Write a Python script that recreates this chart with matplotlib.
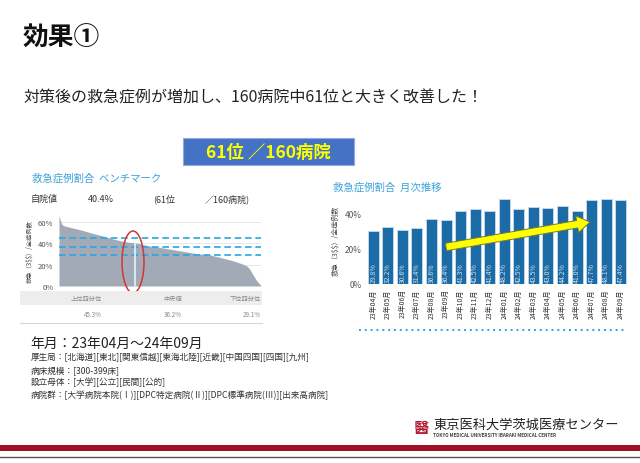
import matplotlib
matplotlib.use("Agg")
import matplotlib.pyplot as plt
import matplotlib.patches as mpatches
import numpy as np

plt.rcParams['font.family'] = ['Noto Sans CJK JP', 'DejaVu Sans']

# ---------------- data ----------------
bench_values = [
    66.0, 62.0, 58.5, 57.0, 56.5,
    56.0, 55.8, 55.5, 55.2, 55.0,
    54.6, 54.3, 54.0, 53.8, 53.5, 53.2, 52.9, 52.6, 52.3, 52.0,
    51.6, 51.2, 50.9, 50.5, 50.2, 49.8, 49.5, 49.1, 48.8, 48.5,
    48.2, 47.9, 47.6, 47.3, 47.0, 46.7, 46.4, 46.1, 45.7, 45.3,
    45.0, 44.6, 44.3, 44.0, 43.7, 43.4, 43.1, 42.8, 42.5, 42.2,
    42.0, 41.8, 41.6, 41.4, 41.2, 41.0, 40.9, 40.8, 40.7, 40.5,
    40.4, 40.2, 40.0, 39.8, 39.5, 39.2, 38.9, 38.6, 38.3, 38.0,
    37.8, 37.6, 37.4, 37.2, 37.0, 36.8, 36.6, 36.5, 36.4, 36.2,
    36.0, 35.8, 35.6, 35.4, 35.2, 35.0, 34.8, 34.6, 34.4, 34.2,
    34.0, 33.8, 33.6, 33.4, 33.2, 33.0, 32.8, 32.6, 32.4, 32.2,
    32.0, 31.8, 31.6, 31.4, 31.2, 31.0, 30.8, 30.6, 30.4, 30.2,
    30.1, 30.0, 29.9, 29.8, 29.7, 29.6, 29.5, 29.4, 29.2, 29.1,
    28.8, 28.5, 28.2, 27.9, 27.6, 27.3, 27.0, 26.7, 26.4, 26.1,
    25.8, 25.5, 25.2, 24.9, 24.6, 24.3, 24.0, 23.6, 23.2, 22.8,
    22.4, 22.0, 21.6, 21.2, 20.8, 20.3, 19.8, 19.2, 18.5, 17.5,
    16.0, 14.0, 12.0, 10.0, 8.0, 6.0, 4.5, 3.0, 1.5, 0.5,
]
own_rank = 61
own_value = 40.4
quartile_names = ['上位四分位', '中央値', '下位四分位']
quartile_values = [45.3, 36.2, 29.1]

months = ['23年04月', '23年05月', '23年06月', '23年07月', '23年08月', '23年09月',
          '23年10月', '23年11月', '23年12月', '24年01月', '24年02月', '24年03月',
          '24年04月', '24年05月', '24年06月', '24年07月', '24年08月', '24年09月']
monthly_values = [29.8, 32.2, 30.6, 31.4, 36.6, 36.4, 41.3, 42.5, 41.4, 48.2,
                  42.5, 43.5, 43.0, 44.2, 41.0, 47.7, 48.1, 47.4]
y_ticks = [0, 20, 40, 60]

W, H = 640, 464
fig = plt.figure(figsize=(6.4, 4.64), dpi=100)
fig.patch.set_facecolor('white')


def fx(x):
    return x / W


def fy(y):
    return 1 - y / H


def text(x, y, s, **kw):
    fig.text(fx(x), fy(y), s, **kw)


# ---------------- headings ----------------
text(23, 38, '効果①', fontsize=18.5, fontweight='bold', va='center', ha='left', color='#111111')
text(23, 98, '対策後の救急症例が増加し、160病院中61位と大きく改善した！', fontsize=11.5,
     va='center', ha='left', color='#222222')

# blue banner
fig.add_artist(mpatches.Rectangle((fx(183), fy(166)), fx(171), 27 / H, transform=fig.transFigure,
                                  facecolor='#4472C4', edgecolor='#8FAADC', lw=0.8))
text(268, 153, '61位 ／160病院', fontsize=12.5, fontweight='bold', color='#FFFF00',
     ha='center', va='center')

# ---------------- left: benchmark ----------------
blue_title = '#3AA3DA'
text(32, 179, '救急症例割合  ベンチマーク', fontsize=7.5, color=blue_title, va='center')
text(31, 199, '自院値', fontsize=6.5, color='#333333', va='center')
text(88, 199, f'{own_value}%', fontsize=6.5, color='#333333', va='center')
text(153, 199, f'({own_rank}位', fontsize=6.5, color='#333333', va='center')
text(205, 199, f'／{len(bench_values)}病院)', fontsize=6.5, color='#333333', va='center')

axl = fig.add_axes([fx(59), fy(287), 202 / W, 70 / H])
ranks = np.arange(1, len(bench_values) + 1)
axl.fill_between(ranks, bench_values, 0, color='#A2AAB8', lw=0, zorder=2)
axl.set_xlim(1, len(bench_values))
axl.set_ylim(0, 65.6)
axl.set_yticks(y_ticks)
axl.set_yticklabels([f'{v}%' for v in y_ticks], fontsize=5.5, color='#555555')
axl.tick_params(length=0, pad=4)
axl.set_xticks([])
for v in y_ticks[1:]:
    axl.axhline(v, color='#E3E3E3', lw=0.6, zorder=1)
for s in axl.spines.values():
    s.set_visible(False)
for q in quartile_values:
    axl.axhline(q, color='#2AA7E2', lw=1.2, ls=(0, (4, 2.2)), zorder=3)
axl.vlines(own_rank, 0, own_value, color='#D8E8F4', lw=1.4, zorder=3)
axl.set_ylabel('救急（3\\$\\$）/全症例数', fontsize=4.5, color='#444444', labelpad=3)

fig.add_artist(mpatches.Ellipse((fx(133), fy(263)), 22 / W, 62 / H, transform=fig.transFigure,
                                fill=False, edgecolor='#D8352B', lw=1.1))

# quartile table
fig.add_artist(mpatches.Rectangle((fx(20), fy(306)), fx(242), 14 / H, transform=fig.transFigure,
                                  facecolor='#EDEDED', edgecolor='none'))
fig.add_artist(plt.Line2D([fx(20), fx(262)], [fy(324), fy(324)], transform=fig.transFigure,
                          color='#D6D6D6', lw=0.8))
col_right = [102, 182, 261]
for xr, name, val in zip(col_right, quartile_names, quartile_values):
    text(xr, 299, name, fontsize=4.5, color='#888888', ha='right', va='center')
    text(xr, 315, f'{val}%', fontsize=4.5, color='#888888', ha='right', va='center')

# ---------------- right: monthly ----------------
text(333, 188, '救急症例割合  月次推移', fontsize=7.5, color=blue_title, va='center')
axr = fig.add_axes([fx(366), fy(285), 262 / W, 88.5 / H])
x = np.arange(len(months))
axr.bar(x, monthly_values, width=0.76, color='#1B6BA6', edgecolor='#BFD6EA', lw=0.7, zorder=2)
axr.set_xlim(-0.5, len(months) - 0.5)
axr.set_ylim(0, 50)
axr.set_yticks(y_ticks[:3])
axr.set_yticklabels([f'{v}%' for v in y_ticks[:3]], fontsize=6, color='#555555')
axr.set_xticks(x)
axr.set_xticklabels(months, rotation=90, fontsize=5, color='#333333')
axr.tick_params(length=0, pad=3)
for s in axr.spines.values():
    s.set_visible(False)
axr.set_ylabel('救急（3\\$\\$）/全症例数', fontsize=5, color='#444444', labelpad=4)
for xi, v in zip(x, monthly_values):
    axr.text(xi, 1.0, f'{v}%', rotation=90, fontsize=5, color='#D5DEE8',
             ha='center', va='bottom', zorder=3)

arrow = mpatches.FancyArrow(4.46, 2.16, 1.44, 0.25, width=0.075, head_width=0.17,
                            head_length=0.13, length_includes_head=True,
                            transform=fig.dpi_scale_trans, facecolor='#FFFF00',
                            edgecolor='#77773A', lw=0.7)
fig.add_artist(arrow)

fig.add_artist(plt.Line2D([fx(359), fx(627)], [fy(331), fy(331)], transform=fig.transFigure,
                          color='#2AA7E2', lw=1.4, ls=(0, (1, 2))))

# ---------------- bottom text ----------------
text(30, 344, '年月：23年04月～24年09月', fontsize=10, color='#222222', va='center')
info_lines = [
    '厚生局：[北海道][東北][関東信越][東海北陸][近畿][中国四国][四国][九州]',
    '病床規模：[300-399床]',
    '設立母体：[大学][公立][民間][公的]',
    '病院群：[大学病院本院(Ⅰ)][DPC特定病院(Ⅱ)][DPC標準病院(Ⅲ)][出来高病院]',
]
for i, line in enumerate(info_lines):
    text(31, 358 + i * 12.3, line, fontsize=6.2, color='#333333', va='center')

# ---------------- footer ----------------
text(422, 428, '醫', fontsize=11, fontweight='bold', color='#B0182E', ha='center', va='center')
text(433, 425, '東京医科大学茨城医療センター', fontsize=9.5, color='#222222', va='center')
text(433, 436, 'TOKYO MEDICAL UNIVERSITY IBARAKI MEDICAL CENTER', fontsize=3.3,
     color='#444444', va='center', fontweight='bold')
fig.add_artist(mpatches.Rectangle((0, fy(452)), 1, 6 / H, transform=fig.transFigure,
                                  facecolor='#9E1022', edgecolor='none'))
fig.add_artist(plt.Line2D([0, 1], [fy(457.5), fy(457.5)], transform=fig.transFigure,
                          color='#555555', lw=1.0))

fig.savefig('out.png', dpi=100, facecolor='white')
